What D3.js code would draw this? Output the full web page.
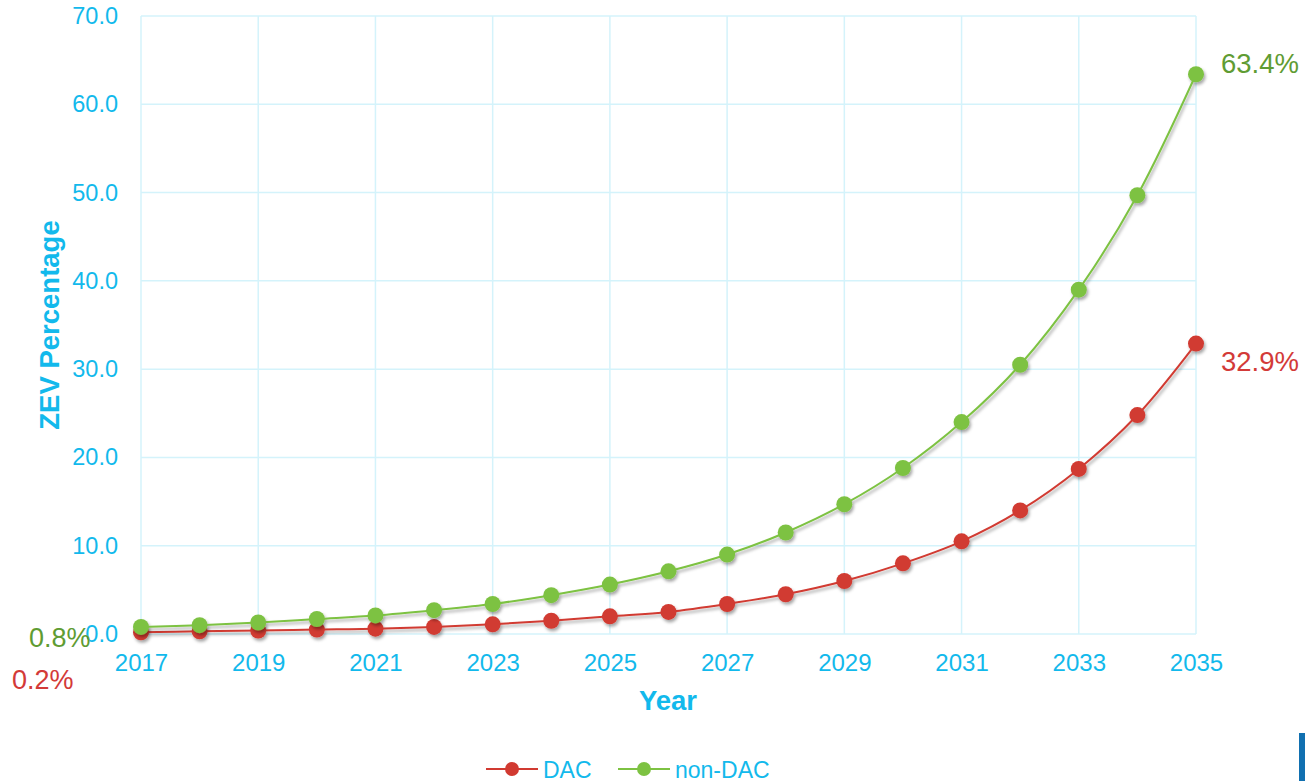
<!DOCTYPE html>
<html>
<head>
<meta charset="utf-8">
<script src="https://cdn.jsdelivr.net/npm/d3@7"></script>
<style>
  html, body { margin: 0; padding: 0; background: #fff; }
  svg { display: block; font-family: "Liberation Sans", Arial, sans-serif; }
</style>
</head>
<body>
<svg id="chart" width="1305" height="781"></svg>
<script>
// ZEV share projections by year
const years = d3.range(2017, 2036);
const dacValues = [0.2, 0.3, 0.4, 0.5, 0.6, 0.8, 1.1, 1.5, 2.0, 2.5, 3.4, 4.5, 6.0, 8.0, 10.5, 14.0, 18.7, 24.8, 32.9];
const nonDacValues = [0.8, 1.0, 1.3, 1.7, 2.1, 2.7, 3.4, 4.4, 5.6, 7.1, 9.0, 11.5, 14.7, 18.8, 24.0, 30.5, 39.0, 49.7, 63.4];
const yTicks = [0, 10, 20, 30, 40, 50, 60, 70];
const xTicks = [2017, 2019, 2021, 2023, 2025, 2027, 2029, 2031, 2033, 2035];
const seriesNames = ["DAC", "non-DAC"];

const cyan = "#12B9EC";
const gridColor = "#D4F3FB";
const red = "#D13A31";
const green = "#7DC242";
const redLabel = "#D33A38";
const greenLabel = "#5F9C33";

const svg = d3.select("#chart");
const x = d3.scaleLinear().domain([2017, 2035]).range([141, 1196]);
const y = d3.scaleLinear().domain([0, 70]).range([634, 16]);

const defs = svg.append("defs");
const f = defs.append("filter").attr("id", "shadow")
  .attr("x", "-50%").attr("y", "-50%").attr("width", "200%").attr("height", "200%");
f.append("feDropShadow").attr("dx", 1.5).attr("dy", 2.5).attr("stdDeviation", 1.6)
  .attr("flood-color", "#000").attr("flood-opacity", 0.35);

// gridlines
const grid = svg.append("g");
grid.selectAll("line.h").data(yTicks).join("line")
  .attr("x1", x(2017)).attr("x2", x(2035))
  .attr("y1", d => y(d)).attr("y2", d => y(d))
  .attr("stroke", gridColor).attr("stroke-width", 1.5);
grid.selectAll("line.v").data(xTicks).join("line")
  .attr("x1", d => x(d)).attr("x2", d => x(d))
  .attr("y1", y(0)).attr("y2", y(70))
  .attr("stroke", gridColor).attr("stroke-width", 1.5);

// axes (labels only)
const yAxis = svg.append("g").attr("transform", `translate(${x(2017)},0)`)
  .call(d3.axisLeft(y).tickValues(yTicks).tickFormat(d3.format(".1f")).tickSize(0).tickPadding(23));
yAxis.select(".domain").remove();
yAxis.selectAll("text").attr("fill", cyan).attr("font-size", 23.5)
  .attr("font-family", "Liberation Sans, Arial, sans-serif");

const xAxis = svg.append("g").attr("transform", `translate(0,${y(0)})`)
  .call(d3.axisBottom(x).tickValues(xTicks).tickFormat(d3.format("d")).tickSize(0).tickPadding(20));
xAxis.select(".domain").remove();
xAxis.selectAll("text").attr("fill", cyan).attr("font-size", 24)
  .attr("font-family", "Liberation Sans, Arial, sans-serif");

// axis titles
svg.append("text").attr("x", 668).attr("y", 710).attr("text-anchor", "middle")
  .attr("fill", cyan).attr("font-size", 27.5).attr("font-weight", "bold").text("Year");
svg.append("text").attr("transform", "translate(59,325) rotate(-90)").attr("text-anchor", "middle")
  .attr("fill", cyan).attr("font-size", 27.5).attr("font-weight", "bold").text("ZEV Percentage");

// series
const series = [
  { name: seriesNames[0], values: dacValues, color: red, labelColor: redLabel },
  { name: seriesNames[1], values: nonDacValues, color: green, labelColor: greenLabel }
];
const line = d3.line().x((d, i) => x(years[i])).y(d => y(d)).curve(d3.curveCatmullRom.alpha(0.5));

series.forEach(s => {
  const g = svg.append("g").attr("filter", "url(#shadow)");
  g.append("path").datum(s.values).attr("d", line)
    .attr("fill", "none").attr("stroke", s.color).attr("stroke-width", 2);
  g.selectAll("circle").data(s.values).join("circle")
    .attr("cx", (d, i) => x(years[i])).attr("cy", d => y(d)).attr("r", 8)
    .attr("fill", s.color);
});

// end labels
const fmt = v => v.toFixed(1) + "%";
svg.append("text").attr("x", 1221).attr("y", 73).attr("fill", greenLabel)
  .attr("font-size", 27.5).text(fmt(nonDacValues[18]));
svg.append("text").attr("x", 1221).attr("y", 371).attr("fill", redLabel)
  .attr("font-size", 27.5).text(fmt(dacValues[18]));
svg.append("text").attr("x", 29).attr("y", 647).attr("fill", greenLabel)
  .attr("font-size", 27).text(fmt(nonDacValues[0]));
svg.append("text").attr("x", 12).attr("y", 689).attr("fill", redLabel)
  .attr("font-size", 27).text(fmt(dacValues[0]));

// legend
const legend = svg.append("g").attr("transform", "translate(0,769)");
const legendItems = [
  { name: seriesNames[0], color: red, x0: 486 },
  { name: seriesNames[1], color: green, x0: 618 }
];
legendItems.forEach(it => {
  legend.append("line").attr("x1", it.x0).attr("x2", it.x0 + 52).attr("y1", 0).attr("y2", 0)
    .attr("stroke", it.color).attr("stroke-width", 2);
  legend.append("circle").attr("cx", it.x0 + 26).attr("cy", 0).attr("r", 7).attr("fill", it.color);
  legend.append("text").attr("x", it.x0 + 57).attr("y", 8.5).attr("fill", cyan)
    .attr("font-size", 23).text(it.name);
});

// corner brand bar
svg.append("rect").attr("x", 1299).attr("y", 733).attr("width", 6).attr("height", 48).attr("fill", "#1170B0");
</script>
</body>
</html>
